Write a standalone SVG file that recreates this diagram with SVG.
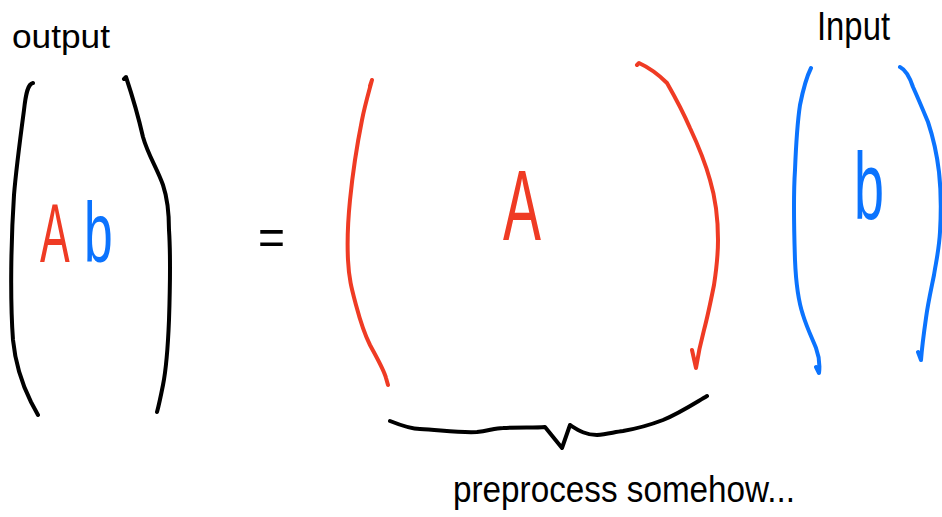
<svg xmlns="http://www.w3.org/2000/svg" width="942" height="517" viewBox="0 0 942 517">
<style>
.ink{fill:none;stroke-width:4;stroke-linecap:round;stroke-linejoin:round}
.k{stroke:#000}
.r{stroke:#ef3b24}
.b{stroke:#0b73fe}
text{font-family:"Liberation Sans","DejaVu Sans",sans-serif}
.tk{fill:#000}
.tr{fill:#ef3b24}
.tb{fill:#0b73fe}
</style>
<rect width="942" height="517" fill="#fff"/>
<g id="output-label"><text class="tk" x="12" y="48" font-size="34" textLength="98" lengthAdjust="spacingAndGlyphs">output</text></g>
<g id="input-label"><text class="tk" x="817" y="40" font-size="40" textLength="73" lengthAdjust="spacingAndGlyphs">Input</text></g>
<g id="output-matrix">
<path class="ink k" d="M33,83 C28,84 26,92 24,110 C20,140 16,170 14,195 C11,240 10,300 13,340 C16,370 25,390 31,402 L38,415"/>
<path class="ink k" d="M124,79 L126,77 C132,95 138,115 143,137 C148,155 157,168 163,185 C168,200 169,215 169,230 C171,260 170,290 169,320 C168,345 166,370 163,385 C161,395 159,405 157,412"/>
<text class="tr" transform="translate(40,262) scale(0.53,1)" font-size="84">A</text>
<text class="tb" transform="translate(84,262) scale(0.6,1)" font-size="86">b</text>
</g>
<g id="equals"><text class="tk" x="258" y="254" font-size="50" textLength="27" lengthAdjust="spacingAndGlyphs">=</text></g>
<g id="matrix-A">
<path class="ink r" d="M370,86 L372,80 C368,95 365,105 362,120 C356,150 352,180 350,200 C348,220 347,240 348,260 C349,280 352,290 356,305 C360,320 364,333 370,345 C377,358 384,370 386,378 L388,385"/>
<path class="ink r" d="M637,65 L639,63 C650,68 660,76 667,83 C675,97 683,112 690,128 C698,145 705,162 710,180 C716,200 718,220 718,240 C718,258 716,272 714,285 C711,300 708,315 704,330 C700,345 698,355 696,368 L692,350"/>
<text class="tr" x="503" y="240" font-size="100" textLength="38" lengthAdjust="spacingAndGlyphs">A</text>
</g>
<g id="vector-b">
<path class="ink b" d="M811,68 C806,78 803,90 800,105 C797,125 796,145 795,170 C793,200 794,230 795,260 C796,285 798,300 803,315 C807,328 812,338 816,348 C819,356 820,365 819,373 L816,367"/>
<path class="ink b" d="M900,67 C906,70 910,78 913,87 C918,98 923,110 928,122 C933,137 937,155 939,172 C941,190 941,215 940,232 C939,250 936,262 934,275 C931,290 928,303 926,318 C924,332 922,347 921,360 L918,352"/>
<text class="tb" x="854" y="219" font-size="95" textLength="30" lengthAdjust="spacingAndGlyphs">b</text>
</g>
<g id="brace">
<path class="ink k" d="M390,421 C400,425 410,429 420,429 C440,430 460,433 477,432 C488,431 495,428 503,428 C520,427 535,428 545,427 L562,448 L570,425 C578,430 585,435 597,435 C607,434 615,432 623,431 C640,428 650,425 663,420 C680,413 695,403 707,396"/>
</g>
<g id="caption"><text class="tk" x="453" y="502" font-size="36" textLength="342" lengthAdjust="spacingAndGlyphs">preprocess somehow...</text></g>
</svg>
